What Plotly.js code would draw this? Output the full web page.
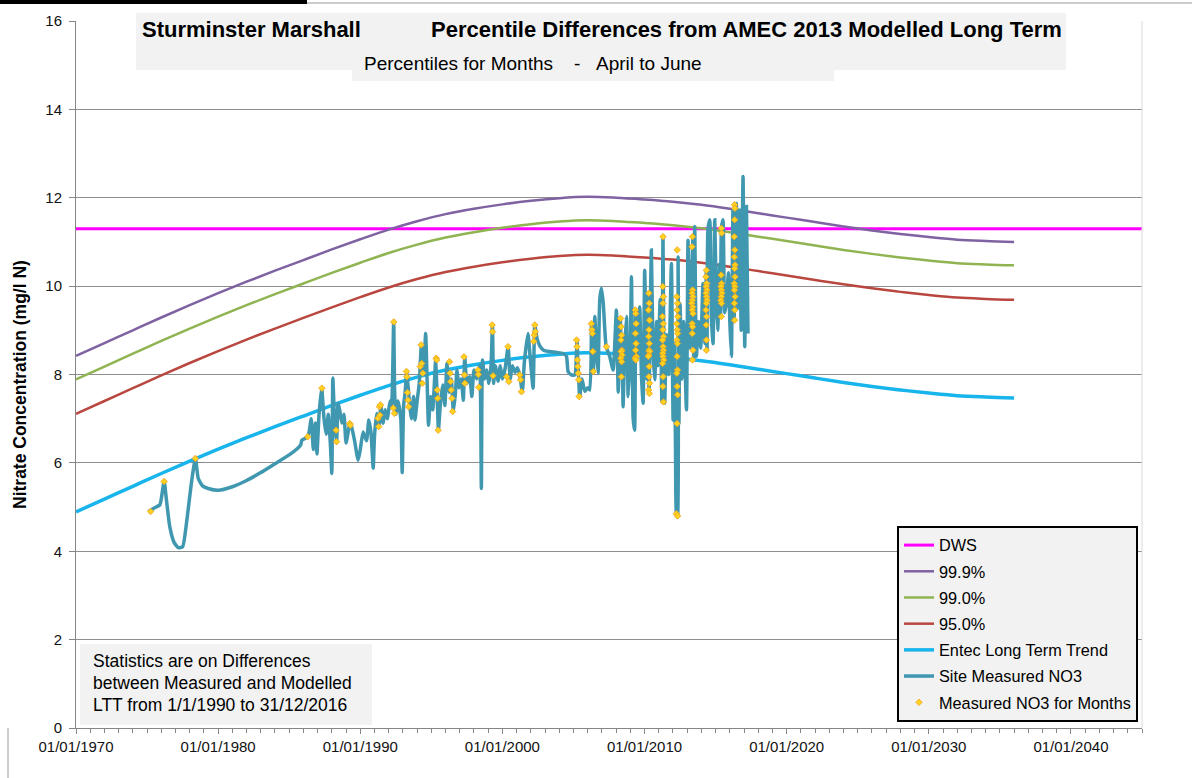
<!DOCTYPE html>
<html><head><meta charset="utf-8">
<script src="https://cdn.plot.ly/plotly-3.0.1.min.js"></script>
<style>html,body{margin:0;padding:0;background:#fff;}#chart{width:1192px;height:778px;}</style>
</head><body><div id="chart"></div>
<script>
// ---- data ----
const trendYears = [1970,1972,1974,1976,1978,1980,1982,1984,1986,1988,1990,1992,1994,1996,1998,2000,2002,2004,2006,2008,2010,2012,2014,2016,2018,2020,2022,2024,2026,2028,2030,2032,2034,2036];
const entecLTT = [4.89,5.18,5.47,5.76,6.04,6.31,6.57,6.82,7.06,7.30,7.53,7.75,7.94,8.10,8.22,8.32,8.40,8.46,8.49,8.47,8.43,8.38,8.31,8.22,8.12,8.02,7.92,7.82,7.73,7.65,7.58,7.52,7.49,7.47];
const pct999 = [8.42,8.71,9.00,9.29,9.57,9.84,10.10,10.35,10.59,10.83,11.06,11.28,11.47,11.63,11.75,11.85,11.93,11.99,12.02,12.00,11.96,11.91,11.84,11.75,11.65,11.55,11.45,11.35,11.26,11.18,11.11,11.05,11.02,11.00];
const pct990 = [7.89,8.18,8.47,8.76,9.04,9.31,9.57,9.82,10.06,10.30,10.53,10.75,10.94,11.10,11.22,11.32,11.40,11.46,11.49,11.47,11.43,11.38,11.31,11.22,11.12,11.02,10.92,10.82,10.73,10.65,10.58,10.52,10.49,10.47];
const pct950 = [7.11,7.40,7.69,7.98,8.26,8.53,8.79,9.04,9.28,9.52,9.75,9.97,10.16,10.32,10.44,10.54,10.62,10.68,10.71,10.69,10.65,10.60,10.53,10.44,10.34,10.24,10.14,10.04,9.95,9.87,9.80,9.74,9.71,9.69];
const dwsYears = [1970, 2045];
const dwsValues = [11.3, 11.3];

const siteMeasured = [
[1975.1,4.90],[1975.5,4.98],[1975.9,5.05],[1976.1,5.40],[1976.2,5.60],[1976.35,5.20],[1976.6,4.55],[1976.9,4.20],[1977.2,4.08],[1977.5,4.10],[1977.8,4.70],[1978.1,5.50],[1978.4,6.10],[1978.6,5.65],[1978.9,5.48],[1979.3,5.42],[1980.0,5.38],[1981.0,5.46],[1982.0,5.60],[1983.0,5.78],[1984.0,5.98],[1985.0,6.18],[1985.6,6.33],[1985.8,6.40],[1985.9,6.52],[1986.1,6.55],[1986.3,6.60],
[1986.4,6.70],[1986.55,7.00],[1986.7,6.30],[1986.85,6.90],[1986.95,6.20],[1987.1,7.10],[1987.28,7.70],[1987.45,7.00],[1987.6,6.65],[1987.75,7.10],[1987.9,6.40],[1988.0,5.76],[1988.07,7.92],[1988.2,6.90],[1988.33,6.45],[1988.44,7.35],[1988.55,7.20],[1988.7,6.90],[1988.85,7.10],[1989.0,6.45],[1989.15,6.70],[1989.27,6.90],[1989.4,6.80],[1989.6,6.50],[1989.85,6.06],[1990.0,6.30],[1990.2,6.70],[1990.44,6.50],[1990.6,6.97],[1990.75,6.70],[1990.91,5.88],[1991.0,6.60],[1991.15,7.12],[1991.3,6.80],[1991.45,7.30],[1991.6,6.90],[1991.75,7.20],[1991.9,7.00],[1992.1,7.40],[1992.2,7.30],[1992.35,9.19],[1992.42,7.60],[1992.5,7.10],[1992.65,7.40],[1992.85,7.00],[1992.95,5.78],[1993.05,7.30],[1993.15,7.57],[1993.27,8.05],[1993.45,7.40],[1993.6,7.00],[1993.75,7.50],[1993.85,6.97],[1994.0,7.40],[1994.15,7.80],[1994.3,8.65],[1994.45,8.00],[1994.6,8.93],[1994.7,7.90],[1994.8,6.85],[1994.95,7.50],[1995.1,7.20],[1995.3,8.30],[1995.4,7.60],[1995.5,6.75],[1995.65,7.40],[1995.8,7.76],[1995.95,7.30],[1996.1,8.25],[1996.25,7.60],[1996.4,7.90],[1996.55,7.16],[1996.7,7.60],[1996.8,8.10],[1996.95,7.70],[1997.1,7.90],[1997.25,7.42],[1997.35,8.40],[1997.5,7.80],[1997.7,7.95],[1997.85,7.50],[1998.0,8.10],[1998.2,7.90],[1998.4,8.20],[1998.52,5.42],[1998.6,8.33],[1998.75,7.90],[1998.9,8.10],[1999.05,7.80],[1999.2,8.20],[1999.3,9.12],[1999.38,7.80],[1999.5,8.20],[1999.7,7.85],[1999.85,8.20],[2000.0,7.90],[2000.2,8.15],[2000.4,8.63],[2000.55,7.90],[2000.7,8.20],[2000.9,8.05],[2001.05,8.15],[2001.22,7.99],[2001.4,7.61],[2001.55,8.30],[2001.8,8.93],[2001.95,8.40],[2002.16,7.69],[2002.28,9.12],[2002.45,8.80],[2002.63,8.65],
[2002.9,8.55],[2003.3,8.52],[2003.8,8.50],[2004.3,8.47],[2004.51,8.41],[2004.62,8.07],[2004.85,7.99],[2005.09,7.99],[2005.25,8.78],[2005.3,8.33],[2005.35,8.03],[2005.44,7.50],[2005.6,7.90],[2005.8,7.62],[2006.0,7.70],[2006.15,7.65],[2006.27,9.15],[2006.3,8.52],[2006.35,9.01],[2006.4,8.07],[2006.5,9.31],[2006.62,8.50],[2006.73,8.03],[2006.85,9.70],[2006.97,9.95],[2007.1,9.60],[2007.3,8.63],[2007.55,8.41],[2007.79,8.10],[2008.02,9.46],[2008.15,7.60],[2008.3,9.27],[2008.37,7.95],[2008.42,8.90],[2008.49,7.27],[2008.6,8.55],[2008.73,9.31],[2008.85,7.50],[2009.0,8.60],[2009.08,10.21],[2009.2,7.00],[2009.3,6.74],[2009.38,9.46],[2009.45,8.33],[2009.55,8.90],[2009.66,9.53],[2009.78,8.00],[2009.9,7.35],[2010.01,10.36],[2010.15,7.90],[2010.25,9.84],[2010.32,7.57],[2010.4,9.20],[2010.48,10.82],[2010.6,8.50],[2010.72,7.88],[2010.85,9.20],[2010.95,8.20],[2011.1,9.70],[2011.22,7.38],[2011.3,11.12],[2011.36,8.30],[2011.42,7.35],[2011.55,8.90],[2011.7,8.00],[2011.89,10.51],[2012.01,6.97],[2012.1,8.70],[2012.18,6.29],[2012.24,4.85],[2012.32,4.78],[2012.36,10.66],[2012.42,6.89],[2012.5,9.60],[2012.62,7.90],[2012.75,9.20],[2012.95,7.20],[2013.06,11.04],[2013.2,8.60],[2013.3,9.90],[2013.41,11.12],[2013.46,8.33],[2013.53,11.35],[2013.65,8.41],[2013.8,9.20],[2013.95,8.60],[2014.11,10.06],[2014.25,8.70],[2014.35,10.36],[2014.4,8.55],[2014.46,11.27],[2014.59,11.50],[2014.7,9.30],[2014.82,8.70],[2014.94,11.50],[2015.05,9.70],[2015.15,9.00],[2015.28,10.50],[2015.35,9.31],[2015.41,11.31],[2015.52,11.50],[2015.64,9.40],[2015.76,9.61],[2015.9,10.30],[2016.0,9.20],[2016.11,8.41],[2016.22,11.72],[2016.3,9.23],[2016.46,11.87],[2016.58,9.50],[2016.69,11.72],[2016.8,9.00],[2016.93,12.48],[2017.05,8.63],[2017.17,11.80],[2017.28,8.93]
];

const monthsMeasured = [
[1975.25,4.90],[1976.2,5.58],[1978.4,6.10],[1986.3,6.59],[1987.3,7.69],[1988.3,6.74],[1988.33,6.48],[1989.26,6.89],[1989.3,6.85],
[1991.25,7.01],[1991.3,6.82],[1991.35,7.27],[1991.38,7.08],[1991.42,7.31],
[1992.32,7.24],[1992.36,9.19],[1992.4,7.12],
[1993.25,8.07],[1993.28,7.95],[1993.32,7.59],[1993.36,7.42],[1993.4,7.27],
[1994.22,8.18],[1994.28,8.67],[1994.32,8.25],[1994.36,7.80],[1994.4,8.03],
[1995.34,8.37],[1995.38,8.33],[1995.42,7.65],[1995.45,7.46],[1995.48,6.74],
[1996.28,8.29],[1996.32,8.03],[1996.36,7.84],[1996.4,7.65],[1996.45,7.46],[1996.5,7.16],
[1997.3,8.40],[1997.33,7.99],[1997.36,7.80],
[1998.28,8.10],[1998.31,8.00],[1998.34,7.71],
[1999.28,9.12],[1999.31,8.97],[1999.34,7.97],
[2000.3,7.95],[2000.4,8.63],[2000.45,7.84],
[2001.22,7.99],[2001.28,7.88],[2001.34,7.61],
[2002.2,8.75],[2002.24,8.89],[2002.28,9.12],[2002.31,8.97],
[2005.22,8.78],[2005.25,8.63],[2005.28,8.33],[2005.31,8.18],[2005.34,8.03],[2005.37,7.88],[2005.4,7.50],
[2006.26,9.15],[2006.3,9.01],[2006.33,8.93],[2006.36,8.52],[2006.4,8.07],
[2007.32,8.63],
[2008.32,9.27],[2008.35,9.08],[2008.38,8.89],[2008.34,8.78],[2008.4,8.55],[2008.36,8.52],[2008.42,8.44],[2008.33,8.37],[2008.39,8.29],[2008.37,7.95],
[2009.35,9.46],[2009.38,9.38],[2009.41,9.15],[2009.36,8.93],[2009.4,8.70],[2009.37,8.55],[2009.42,8.41],[2009.34,8.37],[2009.39,8.33],
[2010.3,9.84],[2010.33,9.61],[2010.28,9.46],[2010.35,9.23],[2010.31,9.01],[2010.29,8.86],[2010.34,8.70],[2010.32,8.55],[2010.36,8.52],[2010.3,8.44],[2010.27,8.41],[2010.33,8.18],[2010.31,7.95],[2010.35,7.80],[2010.29,7.65],[2010.34,7.57],
[2011.3,11.12],[2011.28,9.99],[2011.33,9.76],[2011.3,9.61],[2011.26,9.31],[2011.32,9.15],[2011.29,9.01],[2011.34,8.86],[2011.27,8.78],[2011.31,8.63],[2011.33,8.55],[2011.28,8.48],[2011.3,8.41],[2011.35,8.33],[2011.27,8.25],[2011.31,7.95],[2011.29,7.73],[2011.33,7.38],
[2012.3,10.82],[2012.27,9.76],[2012.32,9.61],[2012.29,9.46],[2012.34,9.31],[2012.26,9.15],[2012.3,9.01],[2012.33,8.93],[2012.28,8.78],[2012.31,8.70],[2012.29,8.41],[2012.32,8.10],[2012.27,8.03],[2012.3,7.73],[2012.33,7.54],[2012.29,6.89],[2012.24,4.85],[2012.32,4.80],
[2013.37,11.12],[2013.34,10.89],[2013.38,9.91],[2013.35,9.84],[2013.4,9.76],[2013.36,9.68],[2013.33,9.61],[2013.39,9.53],[2013.36,9.46],[2013.41,9.38],[2013.35,9.15],[2013.38,9.08],[2013.36,8.93],[2013.4,8.55],[2013.37,8.33],
[2014.35,10.36],[2014.32,10.21],[2014.37,10.06],[2014.34,9.99],[2014.38,9.91],[2014.33,9.84],[2014.36,9.76],[2014.39,9.68],[2014.35,9.61],[2014.32,9.46],[2014.37,9.31],[2014.34,9.12],[2014.36,8.78],[2014.35,8.55],
[2015.4,11.31],[2015.43,11.20],[2015.39,10.25],[2015.42,10.06],[2015.38,9.99],[2015.41,9.91],[2015.44,9.84],[2015.4,9.76],[2015.37,9.68],[2015.42,9.61],[2015.4,9.31],
[2016.33,11.84],[2016.36,11.76],[2016.34,11.50],[2016.31,11.12],[2016.35,10.82],[2016.32,10.66],[2016.37,10.48],[2016.34,10.40],[2016.36,10.21],[2016.31,10.06],[2016.35,9.99],[2016.33,9.91],[2016.37,9.76],[2016.32,9.61],[2016.35,9.46],[2016.34,9.23]
];

const xTickYears = [1970,1980,1990,2000,2010,2020,2030,2040];
const xTickLabels = ['01/01/1970','01/01/1980','01/01/1990','01/01/2000','01/01/2010','01/01/2020','01/01/2030','01/01/2040'];
const seriesNames = ['DWS','99.9%','99.0%','95.0%','Entec Long Term Trend','Site Measured NO3','Measured NO3 for Months'];

// ---- layout helpers ----
const FONT = 'Liberation Sans, Arial, sans-serif';
const M = {l:76, r:50, t:21, b:50};
const W = 1192, H = 778;
const PW = W - M.l - M.r, PH = H - M.t - M.b;
const px = x => (x - M.l) / PW;
const py = y => (H - M.b - y) / PH;

function lineTrace(x, y, name, color, width, shape, group) {
  return {x, y, name, type:'scatter', mode:'lines', legendgroup:group,
    line:{color, width, shape:shape||'linear', smoothing:1}, hoverinfo:'skip'};
}

const traces = [
  lineTrace(dwsYears, dwsValues, seriesNames[0], '#FF00FF', 3, 'linear', 'g1'),
  lineTrace(trendYears, pct999, seriesNames[1], '#7F62A1', 2.5, 'spline', 'g2'),
  lineTrace(trendYears, pct990, seriesNames[2], '#8FB451', 2.5, 'spline', 'g3'),
  lineTrace(trendYears, pct950, seriesNames[3], '#B9473F', 2.5, 'spline', 'g4'),
  lineTrace(trendYears, entecLTT, seriesNames[4], '#18B4EC', 3.5, 'spline', 'g5'),
  {x: siteMeasured.map(d=>d[0]), y: siteMeasured.map(d=>d[1]), name: seriesNames[5], type:'scatter', mode:'lines',
   legendgroup:'g6', line:{color:'#3F97B0', width:3.5, shape:'spline', smoothing:0.5}, hoverinfo:'skip'},
  {x: monthsMeasured.map(d=>d[0]), y: monthsMeasured.map(d=>d[1]), name: seriesNames[6], type:'scatter', mode:'markers',
   legendgroup:'g7', marker:{symbol:'diamond', size:5, color:'#FFD21F', line:{color:'#F0A020', width:0.8}}, hoverinfo:'skip'}
];

const boxes = [
  [136,13,1066,70],[352,45,834,81],[80,644,372,725]
].map(b => ({type:'rect', xref:'paper', yref:'paper', x0:px(b[0]), x1:px(b[2]), y0:py(b[3]), y1:py(b[1]),
  fillcolor:'#F2F2F2', line:{width:0}, layer:'above'}));

const frame = [
  {type:'rect', xref:'paper', yref:'paper', x0:px(0), x1:px(307), y0:py(4), y1:py(0), fillcolor:'#000', line:{width:0}},
  {type:'line', xref:'paper', yref:'paper', x0:px(307), x1:px(1192), y0:py(3), y1:py(3), line:{color:'#9a9a9a', width:1}},
  {type:'line', xref:'paper', yref:'paper', x0:px(8), x1:px(8), y0:py(728), y1:py(778), line:{color:'#9a9a9a', width:1}},
  {type:'line', xref:'paper', yref:'paper', x0:1, x1:1, y0:0, y1:1, line:{color:'#D9D9D9', width:1}}
];

function txt(text, x, y, size, bold) {
  return {text: bold ? '<b>'+text+'</b>' : text, xref:'paper', yref:'paper', x:px(x), y:py(y),
    xanchor:'left', yanchor:'middle', showarrow:false, font:{family:FONT, size, color:'#000'}};
}
const annotations = [
  txt('Sturminster Marshall', 140, 30, 22, true),
  txt('Percentile Differences from AMEC 2013 Modelled Long Term', 429, 30, 22, true),
  txt('Percentiles for Months', 362, 63, 19, false),
  txt('-', 572, 63, 19, false),
  txt('April to June', 594, 63, 19, false),
  txt('Statistics are on Differences', 91, 661, 17.5, false),
  txt('between Measured and Modelled', 91, 683, 17.5, false),
  txt('LTT from 1/1/1990 to 31/12/2016', 91, 705, 17.5, false),
  {text:'<b>Nitrate Concentration (mg/l N)</b>', xref:'paper', yref:'paper', x:px(20), y:py(385),
   xanchor:'center', yanchor:'middle', textangle:-90, showarrow:false, font:{family:FONT, size:17.5, color:'#000'}}
];

const layout = {
  width: W, height: H, margin: M, paper_bgcolor:'#fff', plot_bgcolor:'#fff',
  font:{family:FONT, size:15, color:'#111'},
  showlegend:true,
  legend:{x:px(897), y:py(526), xanchor:'left', yanchor:'top', bgcolor:'#F2F2F2', bordercolor:'#000', borderwidth:2,
    font:{family:FONT, size:16.3, color:'#000'}, traceorder:'grouped', tracegroupgap:2},
  xaxis:{type:'linear', range:[1970,2045], tickmode:'array', tickvals:xTickYears, ticktext:xTickLabels,
    showgrid:false, zeroline:false, showline:true, linecolor:'#868686', linewidth:1,
    ticks:'outside', ticklen:5, tickcolor:'#868686', tickfont:{family:FONT, size:15, color:'#111'},
    minor:{tickmode:'linear', tick0:1970, dtick:1, ticks:'outside', ticklen:4, tickcolor:'#868686', showgrid:false}},
  yaxis:{range:[0,16], dtick:2, tick0:0, showgrid:true, gridcolor:'#8E8E8E', gridwidth:1, zeroline:false,
    showline:true, linecolor:'#868686', ticks:'outside', ticklen:6, tickcolor:'#868686', ticklabelstandoff:4,
    tickfont:{family:FONT, size:15, color:'#111'}},
  shapes: boxes.concat(frame),
  annotations
};

Plotly.newPlot('chart', traces, layout, {displayModeBar:false, staticPlot:true});
</script></body></html>
